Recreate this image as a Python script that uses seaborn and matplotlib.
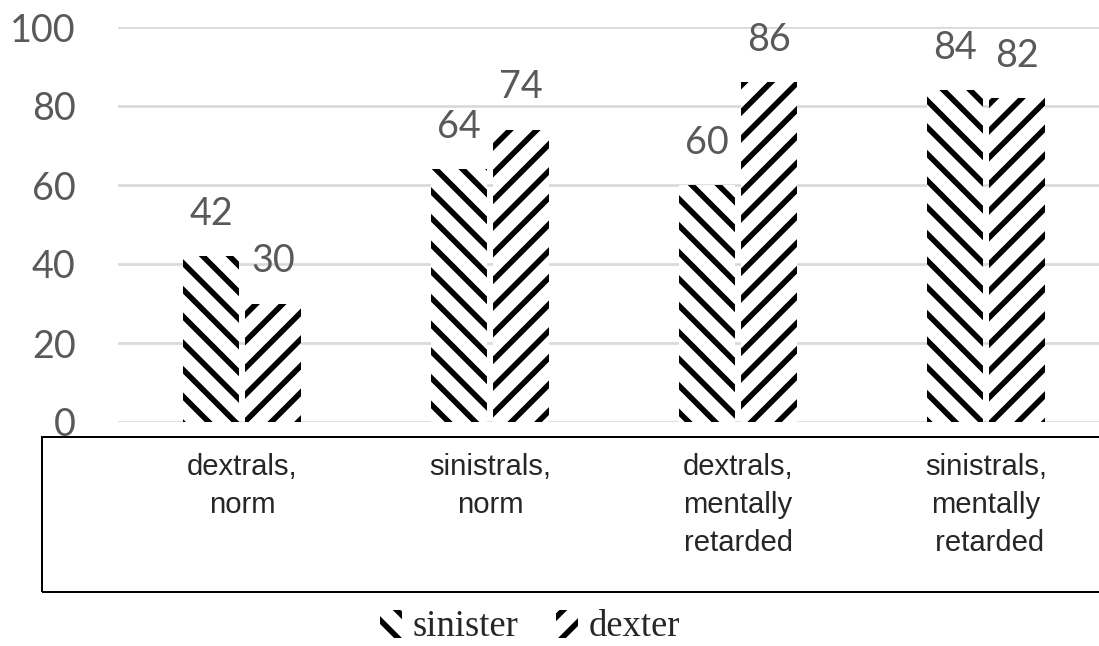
import numpy as np
import pandas as pd
import matplotlib.pyplot as plt
import matplotlib.patches as mpatches
import seaborn as sns

# data
groups = ['dextrals,\nnorm', 'sinistrals,\nnorm',
          'dextrals,\nmentally\nretarded', 'sinistrals,\nmentally\n retarded']
hands = ['sinister', 'dexter']
sinister = [42, 64, 60, 84]
dexter = [30, 74, 86, 82]
hatches = ['\\\\', '//']

DPI = 160
W, H = 1099, 646

sns.set_style('white')
plt.rcParams['hatch.linewidth'] = 2.5

df = pd.DataFrame({
    'group': groups * 2,
    'hand': [hands[0]] * len(groups) + [hands[1]] * len(groups),
    'value': sinister + dexter,
})

fig = plt.figure(figsize=(W / DPI, H / DPI), dpi=DPI)
ax = fig.add_axes([118 / W, 1 - 422 / H, 992 / W, 395 / H])

sns.barplot(data=df, x='group', y='value', hue='hand', hue_order=hands,
            palette=['white', 'white'], width=0.5, gap=0.1,
            edgecolor='black', linewidth=0, legend=False, ax=ax)

for cont, h in zip(ax.containers, hatches):
    for bar in cont:
        bar.set_hatch(h)
        bar.set_edgecolor('black')
        bar.set_linewidth(0)
    ax.bar_label(cont, padding=11, color='#595959', fontsize=17, fontfamily='Lato')

ax.set_ylim(0, 100)
ax.set_yticks(range(0, 101, 20))
ax.grid(axis='y', color='#d9d9d9', lw=1.2)
ax.set_axisbelow(True)
sns.despine(ax=ax, left=True, bottom=True)
ax.set_xlabel('')
ax.set_ylabel('')
ax.tick_params(axis='y', length=0, pad=19, labelsize=17, labelcolor='#595959')
ax.tick_params(axis='x', length=0, pad=14)
for t in ax.get_yticklabels():
    t.set_fontfamily('Lato')
for t in ax.get_xticklabels():
    t.set_fontfamily('Liberation Sans')
    t.set_fontsize(13.2)
    t.set_linespacing(1.45)

# box round the category labels
box = mpatches.Rectangle((42 / W, 1 - 592 / H), (1120 - 42) / W, (592 - 437) / H,
                         transform=fig.transFigure, fill=False,
                         edgecolor='black', lw=0.9, zorder=5)
fig.add_artist(box)

handles = [mpatches.Patch(facecolor='white', edgecolor='black', lw=0, hatch=h)
           for h in hatches]
fig.legend(handles, hands, loc='center', bbox_to_anchor=(530 / W, 1 - 627 / H),
           ncol=2, frameon=False, prop={'family': 'Liberation Serif', 'size': 16.5},
           handlelength=0.6, handleheight=0.8, handletextpad=0.3, columnspacing=1.0)

fig.savefig('out.png', dpi=DPI)
